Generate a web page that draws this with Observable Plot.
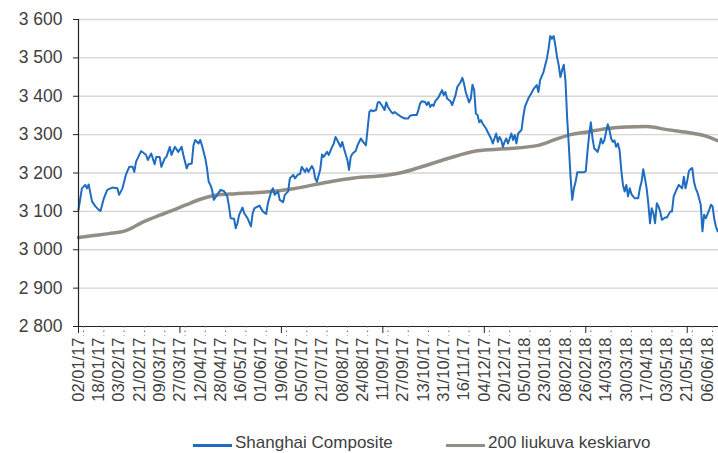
<!DOCTYPE html>
<html><head><meta charset="utf-8">
<script src="https://cdn.jsdelivr.net/npm/d3@7"></script>
<script src="https://cdn.jsdelivr.net/npm/@observablehq/plot@0.6"></script>
<style>
body{margin:0;background:#fff;font-family:"Liberation Sans",Arial,sans-serif;}
#legend{position:relative;width:718px;height:28px;}
#legend .sw{position:absolute;top:19px;width:39px;height:3px;}
#legend .lb{position:absolute;top:9px;font-size:17px;line-height:18px;color:#404040;white-space:nowrap;}
</style></head><body>
<div id="chart"></div>
<div id="legend">
  <span class="sw" style="left:193px;background:#1f6cc0"></span><span class="lb" style="left:235px">Shanghai Composite</span>
  <span class="sw" style="left:446px;background:#938e85"></span><span class="lb" style="left:488px">200 liukuva keskiarvo</span>
</div>
<script>
const tickLabels = ["02/01/17","18/01/17","03/02/17","21/02/17","09/03/17","27/03/17","12/04/17","28/04/17","16/05/17","01/06/17","19/06/17","05/07/17","21/07/17","08/08/17","24/08/17","11/09/17","27/09/17","13/10/17","31/10/17","16/11/17","04/12/17","20/12/17","05/01/18","23/01/18","08/02/18","26/02/18","14/03/18","30/03/18","17/04/18","03/05/18","21/05/18","06/06/18"];
const yTicks = [2800,2900,3000,3100,3200,3300,3400,3500,3600];

// Shanghai Composite: trading-day index and close
const scDay = [
 0,2,4,5,6,8,10,12,13,15,
 17,20,23,24,26,28,30,32,33,34,
 37,38,40,41,43,45,46,48,49,51,
 52,54,55,57,59,61,62,64,65,67,
 68,69,71,72,73,75,76,77,78,79,
 80,82,84,86,88,89,90,92,93,94,
 95,97,98,100,102,103,104,107,109,111,
 112,114,115,116,118,119,121,122,124,125,
 127,128,130,131,132,134,135,136,138,139,
 140,141,143,144,145,147,148,150,151,152,
 153,155,156,157,159,160,161,162,164,165,
 167,168,169,170,171,172,173,174,176,177,
 178,180,181,182,183,185,186,187,189,191,
 193,195,196,198,200,201,202,203,205,206,
 207,208,209,210,211,213,214,215,216,217,
 218,220,221,223,224,226,227,228,229,231,
 232,233,234,235,236,237,238,239,241,242,
 244,245,246,247,248,249,250,251,252,253,
 254,256,257,258,259,260,262,263,264,266,
 268,269,270,271,272,273,275,276,277,278,
 279,280,281,282,283,284,285,286,287,288,
 289,290,291,292,293,294,295,297,299,300,
 301,302,303,304,305,306,307,308,309,310,
 311,312,313,314,315,316,317,318,319,320,
 321,322,323,324,325,326,327,328,329,331,
 332,333,334,335,336,337,338,339,340,341,
 342,343,344,345,347,348,350,351,352,354,
 355,357,358,359,360,361,362,363,364,365,
 366,367,368,369,370,371,373,374,375,376,
 377,378];
const scValue = [
 3104,3160,3169,3160,3170,3126,3113,3104,3101,3134,
 3156,3162,3160,3143,3160,3195,3216,3216,3203,3229,
 3257,3254,3247,3234,3251,3223,3242,3242,3216,3238,
 3242,3268,3247,3268,3255,3268,3247,3212,3223,3225,
 3272,3286,3277,3286,3272,3238,3212,3177,3169,3156,
 3130,3143,3156,3153,3139,3113,3082,3081,3056,3069,
 3091,3110,3095,3082,3061,3095,3108,3115,3100,3093,
 3121,3152,3160,3143,3152,3130,3124,3143,3152,3186,
 3195,3186,3197,3197,3216,3203,3212,3203,3218,3210,
 3186,3177,3210,3248,3242,3255,3247,3268,3277,3294,
 3286,3268,3281,3264,3234,3208,3242,3250,3258,3272,
 3290,3283,3277,3272,3316,3359,3364,3361,3364,3384,
 3385,3372,3364,3384,3372,3359,3355,3359,3352,3346,
 3342,3342,3349,3351,3351,3364,3381,3387,3385,3377,
 3385,3372,3378,3375,3387,3398,3407,3416,3403,3411,
 3394,3387,3377,3403,3424,3437,3448,3433,3411,3384,
 3394,3430,3416,3355,3351,3332,3338,3329,3316,3307,
 3290,3277,3290,3303,3281,3294,3286,3268,3281,3290,
 3277,3303,3286,3299,3277,3303,3312,3346,3372,3394,
 3409,3418,3424,3429,3411,3442,3463,3481,3498,3524,
 3557,3550,3557,3533,3502,3481,3450,3468,3482,3440,
 3342,3270,3190,3130,3160,3177,3202,3202,3202,3205,
 3255,3299,3332,3290,3264,3260,3255,3270,3290,3277,
 3285,3307,3327,3312,3290,3281,3285,3268,3277,3260,
 3208,3169,3152,3169,3139,3160,3145,3139,3134,3134,
 3160,3177,3210,3186,3160,3120,3069,3108,3095,3069,
 3121,3113,3100,3078,3084,3084,3100,3100,3139,3160,
 3169,3160,3190,3160,3180,3205,3210,3213,3177,3160,
 3150,3134,3117,3048,3091,3082,3104,3117,3113,3080,
 3060,3048];

// 200-day moving average
const maDay   = [0,9,18,28,38,48,54,63,73,81,93,109,127,147,163,182,192,202,218,236,252,272,283,291,301,313,324,336,348,364,372,378];
const maValue = [3032,3037,3042,3050,3072,3090,3100,3116,3133,3142,3146,3150,3159,3176,3187,3194,3202,3215,3237,3258,3263,3272,3289,3300,3307,3316,3320,3321,3313,3303,3295,3284];

const sc = scDay.map((d, i) => ({day: d, value: scValue[i]}));
const ma = maDay.map((d, i) => ({day: d, value: maValue[i]}));
const labelDays = tickLabels.map((_, i) => i * 12);
const minorDays = labelDays.map(d => d + 3);
const majorDays = labelDays.filter((d, i) => i % 5 === 0);
const fmt = v => d3.format(",")(v).replace(",", " ");

const chart = Plot.plot({
  width: 718, height: 425,
  marginTop: 19, marginLeft: 78, marginRight: 0, marginBottom: 99,
  style: {fontFamily: "'Liberation Sans', Arial, sans-serif", color: "#404040", background: "#fff"},
  x: {domain: [0, 378.5], axis: null},
  y: {domain: [2800, 3600], axis: null},
  marks: [
    Plot.ruleY(yTicks.filter(v => v > 2800), {stroke: "#d6d6d6", strokeWidth: 1.3}),
    Plot.line(ma, {x: "day", y: "value", stroke: "#938e85", strokeWidth: 3.5, curve: "monotone-x"}),
    Plot.line(sc, {x: "day", y: "value", stroke: "#1f6cc0", strokeWidth: 2}),
    Plot.ruleY([2800], {stroke: "#222", strokeWidth: 1.2}),
    Plot.ruleX([0], {stroke: "#222", strokeWidth: 1.2}),
    Plot.axisY({ticks: yTicks, tickFormat: fmt, tickSize: 5, tickPadding: 11, fontSize: 17.5, stroke: "#222", label: null}),
    Plot.axisX({ticks: majorDays, tickFormat: () => "", tickSize: 7, stroke: "#222", label: null}),
    Plot.ruleX(minorDays, {y1: 2800, y2: 2775, stroke: "#666", strokeDasharray: "1.5,3"}),
    Plot.axisX({ticks: labelDays, tickFormat: d => tickLabels[Math.round(d / 12)], tickRotate: -90, tickSize: 0, tickPadding: 11, fontSize: 16.5, label: null})
  ]
});
document.getElementById("chart").appendChild(chart);
</script>
</body></html>
